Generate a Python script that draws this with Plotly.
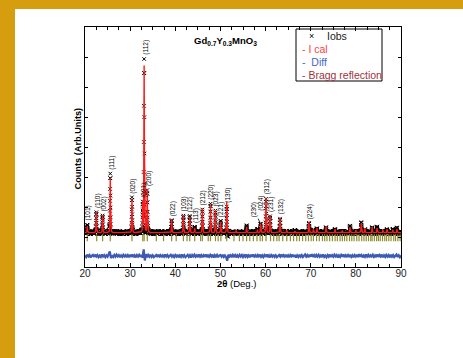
import numpy as np
import plotly.graph_objects as go

# ---------------- data ----------------
tt_min, tt_max, tt_step = 20.0, 90.0, 0.02
background = 276

peak_pos = [20.5, 22.5, 23.9, 25.6, 30.4, 32.8, 33.1, 33.8, 39.2, 41.8, 43.2, 44.3,
            46.0, 47.8, 48.9, 50.05, 51.4, 53.5, 55.8, 58.2, 58.9, 60.1, 61.0, 63.2,
            64.7, 66.5, 69.6, 70.6, 71.4, 73.4, 75.4, 77.0, 78.7, 80.0, 81.2, 82.0,
            83.6, 84.7, 86.0, 86.9, 88.2, 89.1]
peak_height = [223, 700, 590, 1820, 1123, 1000, 5550, 1447, 447, 590, 533, 157,
               813, 923, 757, 367, 1033, 80, 200, 100, 333, 1157, 590, 490,
               90, 60, 367, 120, 157, 223, 123, 80, 190, 90, 323, 150,
               190, 157, 100, 123, 100, 123]
peak_fwhm = 0.12
peak_eta = 0.4

diff_step = 0.25
diff_values = [
    20, -35, 42, -15, 30, -48, 10, 38, -28, 45, -20, 32, -40, 15, -30, 50, -18, 28, -38, 22,
    -25, 40, 150, -70, 18, -32, 35, -22, 45, -12, 30, -42, 20, -28, 38, -15, 25, -45, 32, -20,
    42, -30, 55, -35, 22, -45, 30, -18, 40, -28, 35, -50, 220, -150, 60, -45, 32, -22, 42, -30,
    25, -40, 18, 35, -32, 45, -15, 28, -42, 20, -25, 48, -20, 30, -38, 15, 40, -28, 22, -35,
    32, -18, 42, -45, 20, -30, 50, -22, 28, -40, 15, 38, -32, 25, -48, 30, -15, 42, -25, 20,
    -38, 48, -20, 32, -42, 25, -30, 55, -35, 22, -28, 40, -18, 45, -50, 28, -22, 35, -40, 18,
    30, -25, 42, -32, 20, -38, -160, 45, -20, 28, -42, 35, -15, 30, -45, 22, -28, 40, -18, 32,
    -35, 25, -22, 48, -30, 18, -40, 38, -25, 50, -20, 28, -42, 32, -15, 45, -32, 22, -38, 30,
    -28, 55, -35, 20, -45, 32, -18, 42, -30, 25, -40, 15, 35, -22, 48, -32, 28, -20, 40, -38,
    22, -42, 30, -15, 45, -28, 35, -48, 20, -30, 42, -22, 32, -35, 18, 50, -25, 28, -40, 38,
    -20, 60, -32, 25, -45, 35, -18, 40, -28, 22, -38, 48, -30, 15, -42, 32, -22, 45, -35, 28,
    -25, 42, -15, 30, -48, 20, -32, 38, -22, 50, -40, 28, -18, 35, -30, 45, -28, 22, -42, 32,
    -20, 40, -35, 58, -25, 30, -45, 18, -32, 48, -22, 35, -40, 25, -15, 42, -30, 20, -38, 50,
    -28, 32, -18, 45, -42, 22, -30, 38, -20, 28, -48, 40, -25, 30, -35, 18, 52, -32, 22, -40,
    20]
diff_offset = -500

bragg_pos = [20.5, 22.6, 23.9, 25.6, 30.4, 32.8, 33.1, 33.8, 35.8, 37.4, 39.2, 40.2, 41.8,
             42.6, 43.2, 44.3, 45.6, 46.0, 47.3, 47.8, 48.9, 49.5, 50.1, 51.4, 53.0, 54.2,
             55.0, 55.8, 56.5, 57.3, 58.1, 58.8, 59.3, 60.1, 61.1, 61.8, 62.5, 63.0, 63.8,
             64.7, 65.5, 66.2, 66.9, 67.5, 68.2, 68.9, 69.5, 70.1, 70.6, 71.3, 71.9, 72.6,
             73.1, 73.6, 74.2, 74.8, 75.4, 75.9, 76.5, 77.0, 77.5, 78.0, 78.6, 79.1, 79.6,
             80.2, 80.7, 81.3, 81.8, 82.3, 82.8, 83.3, 83.6, 84.1, 84.6, 85.0, 85.4, 85.9,
             86.4, 86.8, 87.3, 87.8, 88.4, 88.8, 89.3, 89.8]
bragg_level = 110

hkl_labels = ["(101)", "(110)", "(002)", "(111)", "(020)", "(021)", "(112)", "(200)",
              "(022)", "(103)", "(122)", "(113)", "(212)", "(220)", "(023)", "(221)",
              "(130)", "(024)", "(312)", "(231)", "(132)", "(224)"]
hkl_pos = [20.5, 22.5, 23.9, 25.6, 30.4, 32.8, 33.1, 33.8, 39.2, 41.8, 43.2, 44.3,
           46.0, 47.8, 48.9, 50.05, 51.4, 58.9, 60.1, 61.0, 63.2, 69.6]
arrow_label, arrow_pos = "(230)", 58.9

title_text = "<b>Gd<sub>0.7</sub>Y<sub>0.3</sub>MnO<sub>3</sub></b>"
x_title = "<b>2θ</b> (Deg.)"
y_title = "<b>Counts (Arb.Units)</b>"

# ---------------- profile built from the peak list ----------------
n = int(round((tt_max - tt_min) / tt_step)) + 1
tt = tt_min + tt_step * np.arange(n)
ical = np.full(n, float(background))
for p, h in zip(peak_pos, peak_height):
    u = (tt - p) / peak_fwhm
    g = np.exp(-4 * np.log(2) * u ** 2)
    lor = 1.0 / (1 + 4 * u ** 2)
    ical += h * (peak_eta * lor + (1 - peak_eta) * g)

diff_arr = np.array(diff_values, dtype=float)
diff_x = tt_min + diff_step * np.arange(len(diff_arr))
bin_idx = np.clip(np.rint((tt - tt_min) / diff_step).astype(int), 0, len(diff_arr) - 1)
iobs = ical + diff_arr[bin_idx]

# ---------------- figure ----------------
W, H = 463, 358
L_, R_, T_, B_ = 85, 401, 27, 267


def px(xp):
    return (xp - L_) / (R_ - L_)


def py(yp):
    return (B_ - yp) / (B_ - T_)


font_main = "Liberation Sans, Arial, Helvetica, sans-serif"

fig = go.Figure()
fig.add_trace(go.Scatter(x=tt, y=iobs, mode="markers", name="Iobs",
                         marker=dict(symbol="x-thin", size=3.5, color="black",
                                     line=dict(width=1, color="black")),
                         hoverinfo="skip"))
fig.add_trace(go.Scatter(x=tt, y=ical, mode="lines", name="I cal",
                         line=dict(color="#ff1a1a", width=1.4), hoverinfo="skip"))
fig.add_trace(go.Scatter(x=diff_x, y=diff_arr + diff_offset, mode="lines", name="Diff",
                         line=dict(color="#3d5bb3", width=2.2), hoverinfo="skip"))
fig.add_trace(go.Scatter(x=bragg_pos, y=[bragg_level] * len(bragg_pos), mode="markers",
                         name="Bragg reflection",
                         marker=dict(symbol="line-ns", size=5, color="#8c8c2e",
                                     line=dict(width=1.2, color="#8c8c2e")),
                         hoverinfo="skip"))

annotations = []
for lab, pos in zip(hkl_labels, hkl_pos):
    m = np.abs(tt - pos) <= 0.08
    ytop = float(iobs[m].max())
    ys = 11 if lab == "(024)" else 2
    annotations.append(dict(x=pos, y=ytop, xref="x", yref="y", text=lab, textangle=-90,
                            showarrow=False, xanchor="center", yanchor="bottom",
                            xshift=1, yshift=ys,
                            font=dict(family=font_main, size=6.5, color="black")))
m = np.abs(tt - arrow_pos) <= 0.08
annotations.append(dict(x=arrow_pos, y=float(iobs[m].max()), xref="x", yref="y",
                        text=arrow_label, textangle=-90, showarrow=True, arrowhead=0,
                        arrowwidth=0.8, arrowcolor="black", ax=-7, ay=-14,
                        font=dict(family=font_main, size=6.5, color="black")))


def ann(xp, yp, text, size, color="black", xanchor="center", angle=0):
    return dict(x=px(xp), y=py(yp), xref="paper", yref="paper", text=text,
                showarrow=False, xanchor=xanchor, yanchor="middle", textangle=angle,
                font=dict(family=font_main, size=size, color=color))


annotations += [
    ann(225, 41, title_text, 9.5),
    ann(77.5, 149, y_title, 9.2, angle=-90),
    ann(236, 283, x_title, 9.5),
    # legend
    ann(311.5, 36, "×", 9),
    ann(325, 36, "Iobs", 10.5, "#222222", "left"),
    ann(300, 49, "- I cal", 10.5, "#ff3b3b", "left"),
    ann(300, 62, "-  Diff", 10.5, "#4466c4", "left"),
    ann(300, 74.5, "- Bragg reflection", 10.5, "#a3303c", "left"),
]

shapes = [
    dict(type="rect", xref="paper", yref="paper", x0=px(15), x1=px(470), y0=py(370), y1=py(9),
         fillcolor="white", line=dict(width=0), layer="below"),
    dict(type="rect", xref="paper", yref="paper", x0=px(296), x1=px(382), y0=py(81), y1=py(29),
         fillcolor="rgba(0,0,0,0)", line=dict(width=1, color="black"), layer="above"),
]

axis_common = dict(showline=True, linecolor="black", linewidth=1, mirror="allticks",
                   ticks="inside", tickcolor="black", tickwidth=1, showgrid=False,
                   zeroline=False)

fig.update_layout(
    width=W, height=H,
    margin=dict(l=L_, r=W - R_, t=T_, b=H - B_, pad=0),
    paper_bgcolor="#D69E0E", plot_bgcolor="white",
    showlegend=False,
    annotations=annotations, shapes=shapes,
    xaxis=dict(range=[tt_min, tt_max], dtick=10, tick0=20, ticklen=4,
               ticklabelstandoff=-3,
               minor=dict(dtick=2.5, ticks="inside", ticklen=3, tickcolor="black",
                          showgrid=False),
               tickfont=dict(family=font_main, size=10, color="#222222"),
               **axis_common),
    yaxis=dict(range=[-867, 7133], dtick=1000, tick0=133, ticklen=3,
               showticklabels=False, **axis_common),
)

fig.write_html("out.html",
               config={"displayModeBar": False},
               post_script="document.body.style.margin='0px';"
                           "document.body.style.background='#D69E0E';")
